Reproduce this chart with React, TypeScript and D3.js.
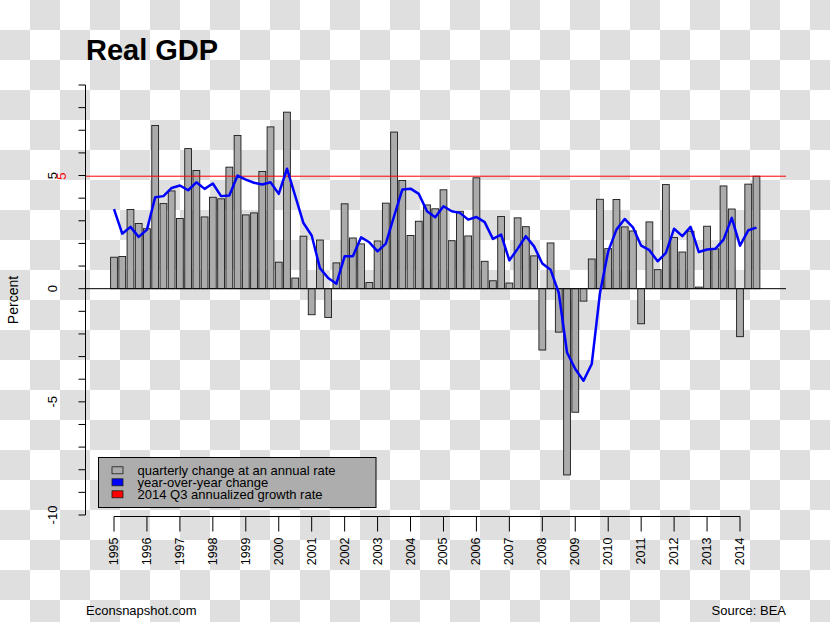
import React from "react";
import * as d3 from "d3";

const years = d3.range(1995, 2015);
const yTicks = d3.range(-10, 10);
const yLabels = [-10, -5, 0, 5];

// quarterly change at an annual rate, 1995Q1 .. 2014Q3
const quarterly = [
  1.39, 1.42, 3.5, 2.88, 2.65, 7.21, 3.76, 4.32,
  3.1, 6.19, 5.22, 3.17, 4.04, 3.97, 5.37, 6.77,
  3.26, 3.35, 5.18, 7.15, 1.17, 7.8, 0.47, 2.32,
  -1.15, 2.15, -1.27, 1.14, 3.75, 2.24, 1.98, 0.27,
  2.11, 3.78, 6.92, 4.78, 2.35, 2.98, 3.7, 3.53,
  4.37, 2.12, 3.42, 2.33, 4.9, 1.21, 0.35, 3.19,
  0.25, 3.13, 2.74, 1.45, -2.71, 2.02, -1.92, -8.23,
  -5.46, -0.55, 1.31, 3.95, 1.77, 3.94, 2.73, 2.55,
  -1.55, 2.95, 0.84, 4.6, 2.26, 1.62, 2.54, 0.07,
  2.76, 1.76, 4.54, 3.52, -2.12, 4.62, 4.97,
];

// year-over-year change
const yoy = [
  3.52, 2.43, 2.73, 2.29, 2.61, 4.04, 4.09, 4.45,
  4.56, 4.35, 4.7, 4.41, 4.65, 4.09, 4.12, 5.0,
  4.82, 4.68, 4.6, 4.7, 4.19, 5.3, 4.1, 2.9,
  2.35, 0.91, 0.47, 0.22, 1.43, 1.43, 2.27, 2.05,
  1.65, 1.99, 3.2, 4.38, 4.42, 4.19, 3.42, 3.16,
  3.64, 3.42, 3.35, 3.05, 3.17, 2.94, 2.2, 2.39,
  1.25, 1.76, 2.32, 1.87, 1.11, 0.84, -0.19, -2.82,
  -3.55, -4.07, -3.33, -0.19, 1.65, 2.61, 3.08, 2.71,
  1.9, 1.7, 1.21, 1.58, 2.65, 2.32, 2.73, 1.62,
  1.73, 1.76, 2.17, 3.13, 1.9, 2.58, 2.7,
];

const latest = 4.97;

const legendItems = [
  { label: "quarterly change at an annual rate", color: "#ababab" },
  { label: "year-over-year change", color: "#0000ff" },
  { label: "2014 Q3 annualized growth rate", color: "#ff0000" },
];

const W = 830;
const H = 622;
const FONT = "'Liberation Sans', Arial, Helvetica, sans-serif";

export default function App() {
  const y = d3.scaleLinear().domain([-10, 9]).range([515, 85]);
  const x = d3.scaleLinear().domain([0, 76]).range([114, 740]);
  const barW = 6.8;

  const line = d3
    .line<number>()
    .x((_, i) => x(i))
    .y((d) => y(d));

  const cell = 30;
  const cells: { c: number; r: number }[] = [];
  for (let r = 0; r < Math.ceil(H / cell); r++)
    for (let c = 0; c < Math.ceil(W / cell); c++)
      if ((r + c) % 2 === 1) cells.push({ c, r });

  const axisX = 85.5;
  const xAxisY = 516.5;

  return (
    <svg
      width={W}
      height={H}
      style={{ position: "absolute", left: 0, top: 0, fontFamily: FONT }}
    >
      <rect x={0} y={0} width={W} height={H} fill="#ffffff" />
      {cells.map((d) => (
        <rect
          key={`${d.c}-${d.r}`}
          x={d.c * cell}
          y={d.r * cell}
          width={cell}
          height={cell}
          fill="#dfdfdf"
        />
      ))}

      <text x={86} y={60} fontSize={29} fontWeight="bold" fill="#000">
        Real GDP
      </text>

      {/* bars */}
      {quarterly.map((v, i) => (
        <rect
          key={i}
          x={x(i) - barW / 2}
          y={Math.min(y(v), y(0))}
          width={barW}
          height={Math.abs(y(v) - y(0))}
          fill="#ababab"
          stroke="#1a1a1a"
          strokeWidth={0.9}
        />
      ))}

      {/* zero line and latest line */}
      <line x1={axisX} x2={786} y1={y(0)} y2={y(0)} stroke="#000" strokeWidth={1} />
      <line x1={axisX} x2={786} y1={y(latest)} y2={y(latest)} stroke="#ff0000" strokeWidth={1} />

      {/* yoy line */}
      <path d={line(yoy) || ""} fill="none" stroke="#0000ff" strokeWidth={2.5} strokeLinejoin="round" />

      {/* y axis */}
      <line x1={axisX} x2={axisX} y1={y(-10)} y2={y(9)} stroke="#000" strokeWidth={1} />
      {yTicks.map((t) => (
        <line key={t} x1={axisX - 7} x2={axisX} y1={y(t)} y2={y(t)} stroke="#000" strokeWidth={1} />
      ))}
      {yLabels.map((t) => (
        <text
          key={t}
          transform={`translate(52,${y(t)}) rotate(-90)`}
          textAnchor="middle"
          dominantBaseline="central"
          fontSize={13}
          fill="#000"
        >
          {t}
        </text>
      ))}
      <text
        transform={`translate(61.5,${y(latest)}) rotate(-90)`}
        textAnchor="middle"
        dominantBaseline="central"
        fontSize={13}
        fill="#ff0000"
      >
        {Math.round(latest)}
      </text>
      <text
        transform={`translate(13,300) rotate(-90)`}
        textAnchor="middle"
        dominantBaseline="central"
        fontSize={14}
        fill="#000"
      >
        Percent
      </text>

      {/* x axis */}
      <line x1={x(0)} x2={x(76)} y1={xAxisY} y2={xAxisY} stroke="#000" strokeWidth={1} />
      {years.map((yr) => {
        const xi = x((yr - 1995) * 4);
        return (
          <g key={yr}>
            <line x1={xi} x2={xi} y1={xAxisY} y2={xAxisY + 15} stroke="#000" strokeWidth={1} />
            <text
              transform={`translate(${xi},537.5) rotate(-90)`}
              textAnchor="end"
              dominantBaseline="central"
              fontSize={12.5}
              fill="#000"
            >
              {yr}
            </text>
          </g>
        );
      })}

      {/* legend */}
      <rect x={98.5} y={457.5} width={277.5} height={50} fill="#adadad" stroke="#000" strokeWidth={1} />
      {legendItems.map((d, i) => (
        <g key={d.label}>
          <rect
            x={112}
            y={470.3 + i * 12 - 3.5}
            width={11}
            height={7}
            fill={d.color}
            stroke="#1a1a1a"
            strokeWidth={0.8}
          />
          <text x={137.5} y={470.3 + i * 12} dominantBaseline="central" fontSize={13} fill="#000">
            {d.label}
          </text>
        </g>
      ))}

      <text x={86} y={615} fontSize={13} fill="#000">
        Econsnapshot.com
      </text>
      <text x={786} y={615} fontSize={13} textAnchor="end" fill="#000">
        Source: BEA
      </text>
    </svg>
  );
}
